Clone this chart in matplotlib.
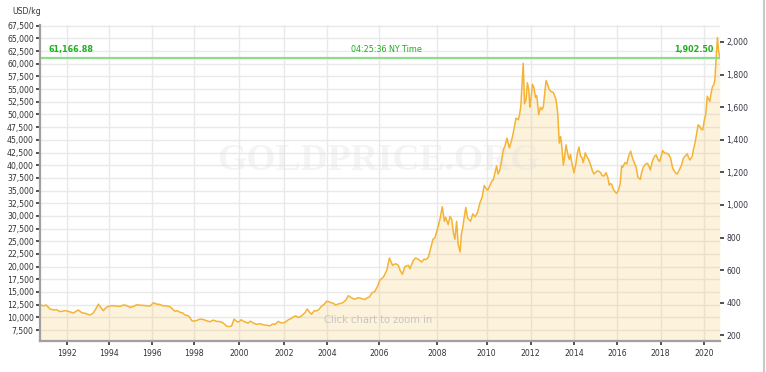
import numpy as np
import matplotlib
matplotlib.use("Agg")
import matplotlib.pyplot as plt
from matplotlib.lines import Line2D
from matplotlib.ticker import FixedLocator, FuncFormatter

OZ_PER_KG = 32.1507

# gold price, USD per troy ounce (decimal years)
years_90s = [1990.70, 1990.86, 1990.99, 1991.18, 1991.35, 1991.49, 1991.65, 1991.89,
             1992.05, 1992.29, 1992.53, 1992.69, 1992.90, 1993.09, 1993.25, 1993.40,
             1993.49, 1993.60, 1993.73, 1993.85, 1993.97, 1994.15, 1994.36, 1994.52,
             1994.67, 1994.82, 1994.98, 1995.15, 1995.30, 1995.50, 1995.70, 1995.92,
             1996.08, 1996.25, 1996.39, 1996.50, 1996.62, 1996.75, 1996.86, 1997.00,
             1997.10, 1997.20, 1997.33, 1997.45, 1997.57, 1997.70, 1997.80, 1997.88,
             1998.00, 1998.11, 1998.25, 1998.40, 1998.55, 1998.70, 1998.85, 1999.00,
             1999.15, 1999.30, 1999.45, 1999.58, 1999.67, 1999.78, 1999.90, 1999.97]
price_90s = [389, 381, 387, 362, 356, 358, 346, 352,
             348, 338, 356, 340, 334, 325, 338, 370,
             392, 372, 352, 370, 378, 383, 380, 378,
             387, 384, 372, 378, 388, 385, 383, 380,
             400, 392, 390, 383, 381, 380, 376, 360,
             348, 352, 342, 338, 325, 322, 310, 290,
             288, 292, 300, 298, 290, 284, 294, 286,
             285, 276, 257, 254, 258, 300, 286, 282]

years_00s = [2000.10, 2000.19, 2000.32, 2000.42, 2000.50, 2000.57, 2000.70, 2000.79,
             2000.95, 2001.09, 2001.25, 2001.39, 2001.50, 2001.61, 2001.76, 2001.90,
             2002.06, 2002.21, 2002.32, 2002.44, 2002.55, 2002.67, 2002.80, 2002.98,
             2003.08, 2003.20, 2003.28, 2003.40, 2003.51, 2003.62, 2003.74, 2003.85,
             2003.97, 2004.04, 2004.15, 2004.23, 2004.32, 2004.42, 2004.55, 2004.62,
             2004.72, 2004.81, 2004.94, 2005.05, 2005.19, 2005.32, 2005.45, 2005.52,
             2005.62, 2005.71, 2005.83, 2005.93, 2006.02, 2006.14, 2006.26, 2006.35,
             2006.46, 2006.56, 2006.66, 2006.72, 2006.80, 2006.89, 2007.01, 2007.06,
             2007.18, 2007.26, 2007.35, 2007.47, 2007.55, 2007.62, 2007.70, 2007.78,
             2007.86, 2007.93, 2008.05, 2008.13, 2008.21, 2008.30, 2008.35, 2008.45,
             2008.52, 2008.59, 2008.66, 2008.72, 2008.79, 2008.85, 2008.93, 2008.98,
             2009.03, 2009.12, 2009.16, 2009.23, 2009.35, 2009.44, 2009.53, 2009.62,
             2009.73, 2009.82, 2009.90, 2009.96]
price_00s = [296, 288, 280, 276, 288, 282, 272, 268,
             272, 265, 262, 259, 270, 268, 286, 276,
             280, 296, 302, 314, 320, 310, 318, 340,
             362, 340, 330, 352, 350, 360, 380, 390,
             410, 408, 400, 398, 386, 393, 398, 403,
             418, 444, 430, 422, 432, 426, 420, 430,
             436, 460, 470, 500, 540, 557, 600, 675,
             630, 640, 630, 600, 575, 623, 630, 609,
             660, 675, 667, 650, 668, 665, 680, 733,
             790, 800, 870, 920, 990, 900, 924, 880,
             930, 912, 830, 790, 900, 760, 712, 820,
             856, 950, 985, 920, 900, 945, 928, 950,
             1014, 1050, 1120, 1105]

years_10s = [2010.05, 2010.15, 2010.25, 2010.30, 2010.40, 2010.45, 2010.52, 2010.60,
             2010.68, 2010.76, 2010.83, 2010.92, 2011.03, 2011.10, 2011.18, 2011.26,
             2011.33, 2011.44, 2011.50, 2011.55, 2011.62, 2011.66, 2011.72, 2011.79,
             2011.85, 2011.91, 2011.96, 2012.00, 2012.08, 2012.15, 2012.22, 2012.28,
             2012.37, 2012.45, 2012.52, 2012.58, 2012.65, 2012.71, 2012.78, 2012.86,
             2012.95, 2013.04, 2013.10, 2013.17, 2013.25, 2013.32, 2013.38, 2013.43,
             2013.51, 2013.57, 2013.63, 2013.70, 2013.78, 2013.84, 2013.89, 2014.00,
             2014.09, 2014.16, 2014.23, 2014.30, 2014.37, 2014.43, 2014.52, 2014.59,
             2014.67, 2014.77, 2014.85, 2014.92, 2015.00, 2015.08, 2015.16, 2015.23,
             2015.30, 2015.39, 2015.48, 2015.56, 2015.63, 2015.68, 2015.74, 2015.82,
             2015.90, 2015.97, 2016.05, 2016.13, 2016.20, 2016.25, 2016.35, 2016.44,
             2016.50, 2016.56, 2016.62, 2016.67, 2016.75, 2016.87, 2016.95, 2017.06,
             2017.12, 2017.21, 2017.30, 2017.39, 2017.45, 2017.52, 2017.60, 2017.67,
             2017.72, 2017.79, 2017.87, 2017.95, 2018.02, 2018.09, 2018.16, 2018.24,
             2018.35, 2018.45, 2018.55, 2018.62, 2018.70, 2018.76, 2018.83, 2018.89,
             2018.97, 2019.04, 2019.12, 2019.22, 2019.28, 2019.34, 2019.45, 2019.50,
             2019.57, 2019.64, 2019.72, 2019.80, 2019.86, 2019.93, 2020.00, 2020.07,
             2020.14, 2020.20, 2020.26, 2020.32, 2020.39, 2020.44, 2020.49, 2020.55,
             2020.61, 2020.66, 2020.72]
price_10s = [1090, 1123, 1150, 1154, 1210, 1240, 1190, 1216,
             1276, 1340, 1360, 1410, 1350, 1380, 1424, 1480,
             1533, 1523, 1560, 1605, 1780, 1869, 1620, 1647,
             1750, 1708, 1600, 1636, 1740, 1719, 1660, 1671,
             1554, 1600, 1585, 1600, 1690, 1764, 1740, 1708,
             1695, 1691, 1670, 1647, 1560, 1379, 1420, 1369,
             1245, 1300, 1369, 1320, 1280, 1310, 1266, 1198,
             1256, 1320, 1355, 1300, 1290, 1260, 1320, 1297,
             1280, 1245, 1210, 1190, 1200, 1210, 1205, 1198,
             1180, 1178, 1198, 1170, 1122, 1130, 1128, 1095,
             1080, 1071, 1090, 1128, 1240, 1231, 1260, 1252,
             1290, 1313, 1330, 1301, 1270, 1231, 1170, 1157,
             1200, 1235, 1250, 1256, 1240, 1215, 1260, 1287,
             1300, 1307, 1280, 1266, 1300, 1334, 1320, 1318,
             1313, 1290, 1225, 1210, 1195, 1190, 1210, 1225,
             1250, 1287, 1300, 1313, 1290, 1276, 1300, 1340,
             1379, 1430, 1492, 1480, 1465, 1461, 1520, 1560,
             1667, 1650, 1636, 1690, 1729, 1735, 1766, 1900,
             2027, 1950, 1902.50]

spot_kg = 61166.88
spot_oz = 1902.50
spot_time = "04:25:36 NY Time"

kg_ticks = list(range(7500, 67501, 2500))
oz_ticks = list(range(200, 2001, 200))
year_ticks = list(range(1992, 2021, 2))

# the site's time axis is not uniform, so years go through a bent scale
axis_years = [1980, 1990.70, 1992, 1994, 1996, 1998, 2000, 2002, 2004, 2006,
              2008, 2010, 2012, 2014, 2016, 2018, 2020, 2020.73, 2030]
axis_pos = [-184.7, 40, 67.3, 109, 151.7, 194.3, 239, 283.7, 327.3, 379.3,
            437, 486.7, 530.7, 574, 617.3, 660.7, 704.3, 720, 922]


def year_to_pos(y):
    return np.interp(y, axis_years, axis_pos)


def pos_to_year(p):
    return np.interp(p, axis_pos, axis_years)


years = np.array(years_90s + years_00s + years_10s)
price_kg = np.array(price_90s + price_00s + price_10s) * OZ_PER_KG

fig = plt.figure(figsize=(7.66, 3.72), dpi=100)
ax = fig.add_axes([40 / 766, 31 / 372, 680 / 766, 316 / 372])

ax.set_xscale("function", functions=(year_to_pos, pos_to_year))
ax.set_xlim(1990.70, 2020.73)
ax.set_ylim(5335, 67640)

grid_col = "#e9e9e9"
for yr in year_ticks:
    ax.axvline(yr, color=grid_col, lw=1.0, zorder=0)
for v in kg_ticks:
    ax.axhline(v, color=grid_col, lw=1.0, zorder=0)

ax.fill_between(years, price_kg, 5335, color="#f7b733", alpha=0.17, lw=0, zorder=1)

ax.text(0.497, 0.571, "GOLDPRICE.ORG", transform=ax.transAxes, ha="center", va="center",
        fontsize=27, fontweight="bold", family="Liberation Serif", color="#e2e2e2",
        alpha=0.35, zorder=2)
ax.text(0.497, 0.066, "Click chart to zoom in", transform=ax.transAxes, ha="center",
        va="center", fontsize=7.2, color="#c6c6c6", zorder=2)

ax.plot(years, price_kg, color="#f5b335", lw=1.1, zorder=3)

ax.axhline(spot_kg, color="#8edb8e", lw=1.6, zorder=4)
ytr = ax.get_yaxis_transform()
green = "#1fae1f"
ax.text(0.012, spot_kg + 700, f"{spot_kg:,.2f}", transform=ytr, ha="left", va="bottom",
        fontsize=5.8, fontweight="bold", color=green, zorder=5)
ax.text(0.51, spot_kg + 700, spot_time, transform=ytr, ha="center", va="bottom",
        fontsize=5.8, color=green, zorder=5)
ax.text(0.99, spot_kg + 700, f"{spot_oz:,.2f}", transform=ytr, ha="right", va="bottom",
        fontsize=5.8, fontweight="bold", color=green, zorder=5)

for side in ["top", "right"]:
    ax.spines[side].set_visible(False)
for side in ["left", "bottom"]:
    ax.spines[side].set_color("#a0a0a0")
    ax.spines[side].set_linewidth(1.6)
    ax.spines[side].set_zorder(6)

ax.yaxis.set_major_locator(FixedLocator(kg_ticks))
ax.yaxis.set_major_formatter(FuncFormatter(lambda v, p: f"{v:,.0f}"))
ax.xaxis.set_major_locator(FixedLocator(year_ticks))
ax.xaxis.set_major_formatter(FuncFormatter(lambda v, p: f"{v:.0f}"))
ax.xaxis.set_minor_locator(FixedLocator([]))
ax.tick_params(axis="both", length=3, width=1.2, color="#333333", labelsize=5.6,
               labelcolor="#333333", pad=1.5)
ax.tick_params(axis="x", pad=3)

sec = ax.secondary_yaxis("right", functions=(lambda k: k / OZ_PER_KG, lambda o: o * OZ_PER_KG))
sec.yaxis.set_major_locator(FixedLocator(oz_ticks))
sec.yaxis.set_major_formatter(FuncFormatter(lambda v, p: f"{v:,.0f}"))
sec.spines["right"].set_visible(False)
sec.tick_params(length=3, width=1.2, color="#333333", labelsize=5.6, labelcolor="#3a3344",
                pad=1.5)

fig.text(12 / 766, 1 - 12 / 372, "USD/kg", ha="left", va="center", fontsize=5.6,
         color="#333333")
fig.add_artist(Line2D([764 / 766, 764 / 766], [0, 1], color="#c8c8c8", lw=1.5))

fig.savefig("out.png", dpi=100)
